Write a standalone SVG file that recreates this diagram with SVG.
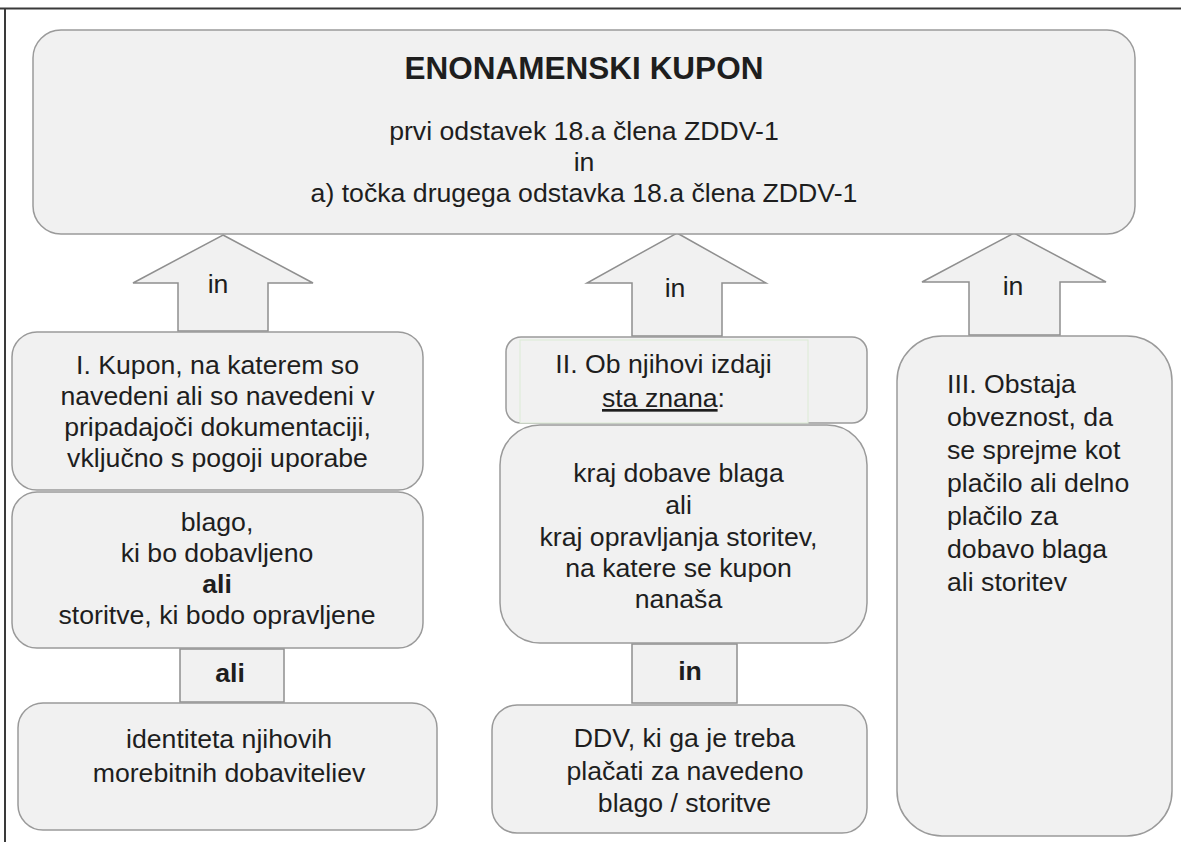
<svg xmlns="http://www.w3.org/2000/svg" width="1181" height="843" viewBox="0 0 1181 843">
<style>
.box{fill:#f1f1f1;stroke:#9a9a9a;stroke-width:1.5}
.conn{fill:#f1f1f1;stroke:#8f8f8f;stroke-width:1.5;stroke-linejoin:miter}
.t{font-family:"Liberation Sans",Arial,sans-serif;font-size:26.67px;fill:#1e1e1e}
.c{text-anchor:middle}
.b{font-weight:bold}
.frame{stroke:#3a3a3a;stroke-width:2;fill:none}
</style>
<rect x="0" y="0" width="1181" height="843" fill="#ffffff"/>
<g id="frame">
<line class="frame" x1="0" y1="8.5" x2="1181" y2="8.5"/>
<line class="frame" x1="5" y1="8" x2="5" y2="842"/>
</g>
<g id="connectors">
<g id="arrow-1">
<polygon class="conn" points="223,235 313,283 268,283 268,331 178,331 178,283 133,283"/>
<text class="t c" x="218" y="293">in</text>
</g>
<g id="arrow-2">
<polygon class="conn" points="677,233 766,283 722,283 722,336 632,336 632,283 587,283"/>
<text class="t c" x="675" y="297">in</text>
</g>
<g id="arrow-3">
<polygon class="conn" points="1014,233 1106,282 1060,282 1060,335 969,335 969,282 922,282"/>
<text class="t c" x="1013" y="295">in</text>
</g>
<g id="link-ali">
<rect class="conn" x="180" y="649" width="104" height="53"/>
<text class="t c b" x="230" y="682">ali</text>
</g>
<g id="link-in">
<rect class="conn" x="632" y="644" width="105" height="59"/>
<text class="t c b" x="690" y="680">in</text>
</g>
</g>
<g id="node-main">
<rect class="box" x="33" y="30" width="1102" height="204" rx="28" ry="28"/>
<text class="t c b" x="584" y="79" style="font-size:31.5px">ENONAMENSKI KUPON</text>
<text class="t c" x="584" y="140">prvi odstavek 18.a člena ZDDV-1</text>
<text class="t c" x="584" y="171">in</text>
<text class="t c" x="584" y="202">a) točka drugega odstavka 18.a člena ZDDV-1</text>
</g>
<g id="node-I">
<rect class="box" x="12" y="332" width="411" height="158" rx="25" ry="25"/>
<text class="t c" x="217.5" y="374">I. Kupon, na katerem so</text>
<text class="t c" x="217.5" y="405">navedeni ali so navedeni v</text>
<text class="t c" x="217.5" y="436">pripadajoči dokumentaciji,</text>
<text class="t c" x="217.5" y="467">vključno s pogoji uporabe</text>
</g>
<g id="node-blago">
<rect class="box" x="12" y="492" width="411" height="156" rx="25" ry="25"/>
<text class="t c" x="217" y="531">blago,</text>
<text class="t c" x="217" y="562">ki bo dobavljeno</text>
<text class="t c b" x="217" y="593">ali</text>
<text class="t c" x="217" y="624">storitve, ki bodo opravljene</text>
</g>
<g id="node-identiteta">
<rect class="box" x="18" y="703" width="419" height="127" rx="25" ry="25"/>
<text class="t c" x="229" y="748">identiteta njihovih</text>
<text class="t c" x="229" y="782">morebitnih dobaviteliev</text>
</g>
<g id="node-II">
<rect class="box" x="506" y="337" width="361" height="86" rx="15" ry="15"/>
<rect x="520" y="340" width="288" height="83" fill="#f1f1f1" stroke="#dcebd5" stroke-width="1"/>
<text class="t c" x="663.5" y="373">II. Ob njihovi izdaji</text>
<text class="t" x="602" y="407"><tspan style="text-decoration:underline">sta znana</tspan>:</text>
</g>
<g id="node-kraj">
<rect class="box" x="500" y="425" width="367" height="218" rx="40" ry="40"/>
<text class="t c" x="678.5" y="482">kraj dobave blaga</text>
<text class="t c" x="678.5" y="514">ali</text>
<text class="t c" x="678.5" y="546">kraj opravljanja storitev,</text>
<text class="t c" x="678.5" y="577">na katere se kupon</text>
<text class="t c" x="678.5" y="608">nanaša</text>
</g>
<g id="node-ddv">
<rect class="box" x="492" y="705" width="375" height="128" rx="25" ry="25"/>
<text class="t c" x="684.5" y="747">DDV, ki ga je treba</text>
<text class="t c" x="685" y="780">plačati za navedeno</text>
<text class="t c" x="684.5" y="812">blago / storitve</text>
</g>
<g id="node-III">
<rect class="box" x="897" y="336" width="275" height="500" rx="45" ry="45"/>
<text class="t" x="947" y="393">III. Obstaja</text>
<text class="t" x="947" y="426">obveznost, da</text>
<text class="t" x="947" y="459">se sprejme kot</text>
<text class="t" x="947" y="492">plačilo ali delno</text>
<text class="t" x="947" y="525">plačilo za</text>
<text class="t" x="947" y="558">dobavo blaga</text>
<text class="t" x="947" y="591">ali storitev</text>
</g>
</svg>
